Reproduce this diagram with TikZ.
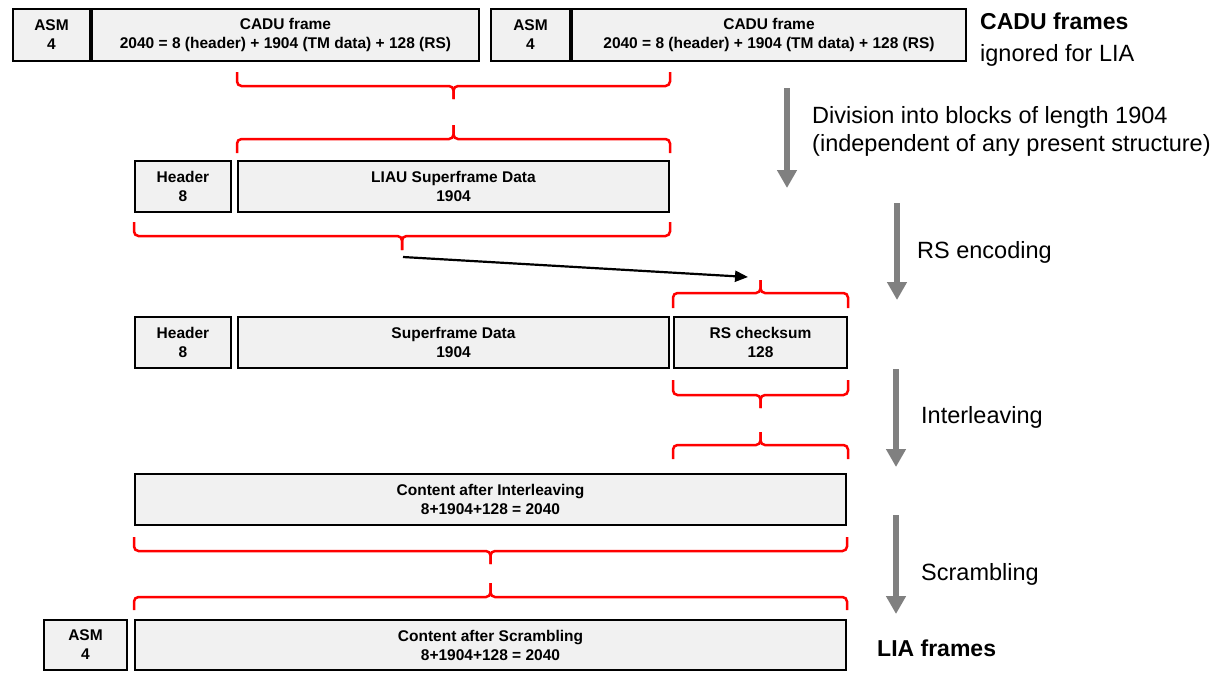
\documentclass[tikz,border=0pt]{standalone}
\usepackage{fontspec}
\setmainfont{Liberation Sans}
\usetikzlibrary{arrows.meta}

\definecolor{boxfill}{RGB}{241,241,241}
\definecolor{stepgray}{RGB}{128,128,128}

% red curly brace: left x, middle x, right x, y of the ends, y of the bar, y of the tip
\newcommand{\redcurly}[6]{%
  \draw[bracepath] (#1,#4) -- (#1,#5) -- (#2,#5) -- (#2,#6);
  \draw[bracepath] (#3,#4) -- (#3,#5) -- (#2,#5) -- (#2,#6);
}

\begin{document}
\begin{tikzpicture}[x=1pt,y=-1pt,
  blk/.style={draw=black, line width=2.2pt, fill=boxfill, inner sep=0pt,
    align=center, font=\bfseries\fontsize{15.5}{19}\selectfont},
  bracepath/.style={draw=red, line width=2.5pt, rounded corners=4.5pt},
  grayarrow/.style={draw=stepgray, line width=6.5pt,
    -{Triangle[length=18pt,width=19pt]}},
  blackarrow/.style={draw=black, line width=2.2pt,
    -{Triangle[length=13pt,width=11pt]}},
  steplabel/.style={anchor=base west, inner sep=0pt, font=\fontsize{23.5}{28}\selectfont},
  framelabel/.style={anchor=base west, inner sep=0pt, font=\bfseries\fontsize{23}{28}\selectfont}]

\useasboundingbox (0,0) rectangle (1217,673);

% row 1: two CADU frames
\node[blk, minimum width=77pt, minimum height=52pt] (asmA) at (51.5,35) {ASM\\4};
\node[blk, minimum width=387pt, minimum height=52pt] (caduA) at (285.5,35) {CADU frame\\2040 = 8 (header) + 1904 (TM data) + 128 (RS)};
\node[blk, minimum width=79pt, minimum height=52pt] (asmB) at (530.5,35) {ASM\\4};
\node[blk, minimum width=394pt, minimum height=52pt] (caduB) at (769,35) {CADU frame\\2040 = 8 (header) + 1904 (TM data) + 128 (RS)};

% row 2: LIAU superframe
\node[blk, minimum width=96pt, minimum height=51pt] (hdrA) at (183,186.5) {Header\\8};
\node[blk, minimum width=431pt, minimum height=51pt] (liau) at (453.5,186.5) {LIAU Superframe Data\\1904};

% row 3: RS encoded superframe
\node[blk, minimum width=96pt, minimum height=51pt] (hdrB) at (183,342.5) {Header\\8};
\node[blk, minimum width=431pt, minimum height=51pt] (sfd) at (453.5,342.5) {Superframe Data\\1904};
\node[blk, minimum width=173pt, minimum height=51pt] (rs) at (760.5,342.5) {RS checksum\\128};

% row 4: interleaved content
\node[blk, minimum width=711pt, minimum height=51pt] (ilv) at (490.5,499.5) {Content after Interleaving\\8+1904+128 = 2040};

% row 5: LIA frame
\node[blk, minimum width=83pt, minimum height=50pt] (asmC) at (85.5,645) {ASM\\4};
\node[blk, minimum width=711pt, minimum height=50pt] (scr) at (490.5,645) {Content after Scrambling\\8+1904+128 = 2040};

% braces
\redcurly{237}{453.5}{670}{72}{86}{99}
\redcurly{237}{453.5}{670}{153}{139}{125}
\redcurly{134}{402}{670}{222}{236}{250}
\redcurly{673}{760.5}{848}{308}{293}{280}
\redcurly{673}{760.5}{848}{380}{395}{408}
\redcurly{673}{760.5}{848}{459}{445}{432}
\redcurly{134}{490.5}{847}{537}{551}{564}
\redcurly{134}{490.5}{847}{610}{597}{583}

% header + data feed the RS checksum
\coordinate (rsFrom) at (403,257);
\coordinate (rsTo) at (748,277);
\draw[blackarrow] (rsFrom) -- (rsTo);

% processing steps
\coordinate (s1a) at (787,88);  \coordinate (s1b) at (787,188);
\coordinate (s2a) at (897,203); \coordinate (s2b) at (897,300);
\coordinate (s3a) at (896,369); \coordinate (s3b) at (896,467);
\coordinate (s4a) at (896,515); \coordinate (s4b) at (896,614);
\draw[grayarrow] (s1a) -- (s1b);
\draw[grayarrow] (s2a) -- (s2b);
\draw[grayarrow] (s3a) -- (s3b);
\draw[grayarrow] (s4a) -- (s4b);

\node[steplabel] (l1) at (812,123) {Division into blocks of length 1904};
\node[steplabel] (l1b) at (812,151) {(independent of any present structure)};
\node[steplabel] (l2) at (917,258) {RS encoding};
\node[steplabel] (l3) at (921,423) {Interleaving};
\node[steplabel] (l4) at (921,580) {Scrambling};

\node[framelabel] (cadu) at (980,29) {CADU frames};
\node[steplabel] (ign) at (980,61) {ignored for LIA};
\node[framelabel] (lia) at (877,656) {LIA frames};

\end{tikzpicture}
\end{document}
